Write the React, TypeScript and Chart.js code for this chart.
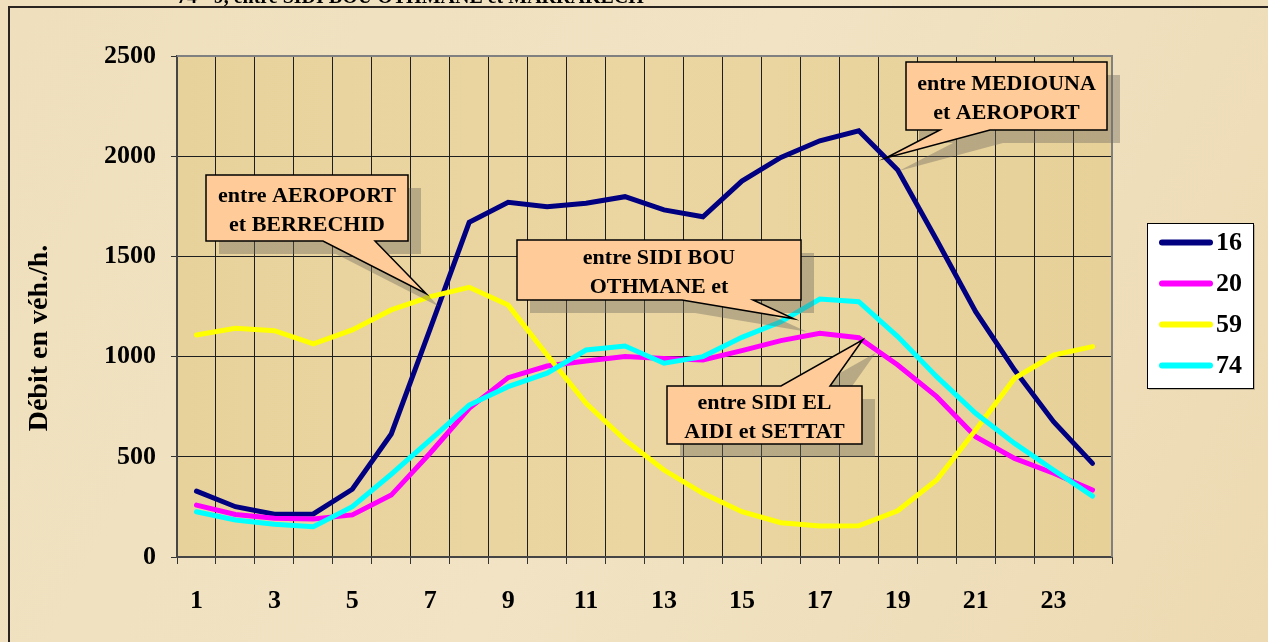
import React, { useEffect, useRef } from "react";
import { Chart, registerables } from "chart.js";

Chart.register(...registerables);

const FONT = "'Liberation Serif', 'Times New Roman', serif";

// ---- data ----
const categories = ["1", "2", "3", "4", "5", "6", "7", "8", "9", "10", "11", "12", "13", "14", "15", "16", "17", "18", "19", "20", "21", "22", "23", "24"];
const series16 = [329, 251, 213, 215, 338, 614, 1140, 1670, 1770, 1748, 1765, 1798, 1732, 1698, 1876, 1994, 2077, 2127, 1931, 1582, 1224, 933, 675, 467];
const series20 = [259, 212, 193, 190, 210, 309, 519, 742, 895, 953, 978, 1000, 991, 983, 1030, 1080, 1116, 1094, 958, 800, 600, 492, 418, 334];
const series59 = [1108, 1141, 1129, 1063, 1133, 1233, 1299, 1346, 1257, 1008, 767, 584, 434, 318, 226, 171, 155, 156, 231, 384, 634, 892, 1008, 1050];
const series74 = [226, 185, 163, 151, 251, 413, 584, 758, 850, 917, 1033, 1053, 967, 1000, 1096, 1174, 1287, 1274, 1100, 900, 717, 567, 434, 304];
const seriesNames = ["16", "20", "59", "74"];
const seriesColors = ["#000080", "#FF00FF", "#FFFF00", "#00FFFF"];
const yTicks = [0, 500, 1000, 1500, 2000, 2500];
const yTickLabels = ["0", "500", "1000", "1500", "2000", "2500"];
const yTitle = "Débit en véh./h.";
const topTitle = "74 - 9, entre SIDI BOU OTHMANE et MARRAKECH";

// callout texts + which point they point at
const calloutText = [
  ["entre AEROPORT", "et BERRECHID"],
  ["entre SIDI BOU", "OTHMANE et"],
  ["entre SIDI EL", "AIDI et SETTAT"],
  ["entre MEDIOUNA", "et AEROPORT"],
];
const calloutTarget = [
  { dataset: 2, index: 6 },
  { dataset: 3, index: 15 },
  { dataset: 1, index: 17 },
  { dataset: 0, index: 18 },
];

// layout of callouts (pixels)
const calloutLayout = [
  { x: 206, y: 175, w: 202, h: 66, tailA: 323, tailB: 375, side: "bottom", dx: -4, dy: -3 },
  { x: 517, y: 240, w: 284, h: 60, tailA: 682, tailB: 753, side: "bottom", dx: 13, dy: -3 },
  { x: 667, y: 386, w: 195, h: 58, tailA: 781, tailB: 830, side: "top", dx: 4, dy: 2 },
  { x: 906, y: 62, w: 201, h: 68, tailA: 940, tailB: 990, side: "bottom", dx: -12, dy: -12 },
];

function calloutPath(ctx: CanvasRenderingContext2D, L: any, tx: number, ty: number, ox: number, oy: number) {
  const x = L.x + ox, y = L.y + oy, w = L.w, h = L.h;
  ctx.beginPath();
  if (L.side === "bottom") {
    ctx.moveTo(x, y);
    ctx.lineTo(x + w, y);
    ctx.lineTo(x + w, y + h);
    ctx.lineTo(L.tailB + ox, y + h);
    ctx.lineTo(tx + ox, ty + oy);
    ctx.lineTo(L.tailA + ox, y + h);
    ctx.lineTo(x, y + h);
    ctx.closePath();
  } else {
    ctx.moveTo(x, y);
    ctx.lineTo(L.tailA + ox, y);
    ctx.lineTo(tx + ox, ty + oy);
    ctx.lineTo(L.tailB + ox, y);
    ctx.lineTo(x + w, y);
    ctx.lineTo(x + w, y + h);
    ctx.lineTo(x, y + h);
    ctx.closePath();
  }
}

const decorPlugin = {
  id: "decor",
  beforeDraw(chart: any) {
    const { ctx, width, height, chartArea } = chart;
    ctx.save();
    // parchment background
    const g = ctx.createLinearGradient(0, 0, width, height);
    g.addColorStop(0, "#EFDFBC");
    g.addColorStop(0.5, "#F1E3C4");
    g.addColorStop(1, "#EDDAB2");
    ctx.fillStyle = g;
    ctx.fillRect(0, 0, width, height);
    // title (clipped at top)
    ctx.fillStyle = "#000";
    ctx.font = `bold 20px ${FONT}`;
    ctx.textAlign = "left";
    ctx.textBaseline = "alphabetic";
    ctx.fillText(topTitle, 177, 3);
    // outer frame
    ctx.strokeStyle = "#2a2420";
    ctx.lineWidth = 2;
    ctx.strokeRect(9, 7, width + 20, height + 20);
    // plot area
    const pg = ctx.createLinearGradient(chartArea.left, 0, chartArea.right, 0);
    pg.addColorStop(0, "#E8D29C");
    pg.addColorStop(0.5, "#EBD6A2");
    pg.addColorStop(1, "#E7D199");
    ctx.fillStyle = pg;
    ctx.fillRect(chartArea.left, chartArea.top, chartArea.right - chartArea.left, chartArea.bottom - chartArea.top);
    // y title
    ctx.save();
    ctx.translate(40, 338);
    ctx.rotate(-Math.PI / 2);
    ctx.fillStyle = "#000";
    ctx.font = `bold 28px ${FONT}`;
    ctx.textAlign = "center";
    ctx.textBaseline = "middle";
    ctx.fillText(yTitle, 0, 0);
    ctx.restore();
    ctx.restore();
  },
  beforeDatasetsDraw(chart: any) {
    const { ctx, chartArea } = chart;
    ctx.save();
    ctx.strokeStyle = "#808080";
    ctx.lineWidth = 2;
    ctx.beginPath();
    ctx.moveTo(chartArea.left, chartArea.top);
    ctx.lineTo(chartArea.right, chartArea.top);
    ctx.lineTo(chartArea.right, chartArea.bottom);
    ctx.stroke();
    ctx.restore();
  },
  afterDatasetsDraw(chart: any) {
    const { ctx } = chart;
    ctx.save();
    calloutLayout.forEach((L, i) => {
      const t = calloutTarget[i];
      const pt = chart.getDatasetMeta(t.dataset).data[t.index];
      const tx = pt.x + L.dx;
      const ty = pt.y + L.dy;
      // shadow
      calloutPath(ctx, L, tx, ty, 13, 13);
      ctx.fillStyle = "rgba(110,105,95,0.4)";
      ctx.fill();
      // body
      calloutPath(ctx, L, tx, ty, 0, 0);
      ctx.fillStyle = "#FFCC99";
      ctx.fill();
      ctx.strokeStyle = "#000";
      ctx.lineWidth = 1.5;
      ctx.lineJoin = "miter";
      ctx.stroke();
      // text
      ctx.fillStyle = "#000";
      ctx.font = `bold 22px ${FONT}`;
      ctx.textAlign = "center";
      ctx.textBaseline = "alphabetic";
      const cx = L.x + L.w / 2;
      const b1 = L.y + L.h / 2 - 6;
      calloutText[i].forEach((line, k) => ctx.fillText(line, cx, b1 + k * 29));
    });
    ctx.restore();
  },
  afterDraw(chart: any) {
    const { ctx } = chart;
    ctx.save();
    const bx = 1147, by = 223, bw = 106, bh = 165;
    ctx.fillStyle = "rgba(90,85,75,0.35)";
    ctx.fillRect(bx + 2, by + 2, bw, bh);
    ctx.fillStyle = "#fff";
    ctx.fillRect(bx, by, bw, bh);
    ctx.strokeStyle = "#000";
    ctx.lineWidth = 1;
    ctx.strokeRect(bx + 0.5, by + 0.5, bw, bh);
    chart.data.datasets.forEach((ds: any, i: number) => {
      const yy = 242.5 + i * 41;
      ctx.strokeStyle = ds.borderColor;
      ctx.lineWidth = 6;
      ctx.lineCap = "round";
      ctx.beginPath();
      ctx.moveTo(1162, yy);
      ctx.lineTo(1210, yy);
      ctx.stroke();
      ctx.fillStyle = "#000";
      ctx.font = `bold 26px ${FONT}`;
      ctx.textAlign = "left";
      ctx.textBaseline = "middle";
      ctx.fillText(ds.label, 1216, yy + 1);
    });
    ctx.restore();
  },
};

export default function App() {
  const ref = useRef<HTMLCanvasElement | null>(null);
  useEffect(() => {
    if (!ref.current) return;
    const data = [series16, series20, series59, series74];
    const chart = new Chart(ref.current, {
      type: "line",
      data: {
        labels: categories,
        datasets: data.map((d, i) => ({
          label: seriesNames[i],
          data: d,
          borderColor: seriesColors[i],
          backgroundColor: seriesColors[i],
          borderWidth: 5,
          pointRadius: 0,
          tension: 0,
          fill: false,
          borderCapStyle: "round",
          borderJoinStyle: "miter",
          order: 3 - i,
        })),
      },
      options: {
        animation: false,
        responsive: false,
        maintainAspectRatio: false,
        layout: { padding: { left: 0, top: 56, right: 156, bottom: 0 } },
        plugins: { legend: { display: false }, tooltip: { enabled: false } },
        scales: {
          x: {
            offset: true,
            grid: { offset: true, color: "#1e1e1e", lineWidth: 1, tickLength: 7, tickColor: "#333" },
            border: { color: "#454545", width: 2 },
            ticks: {
              autoSkip: false,
              maxRotation: 0,
              color: "#000",
              padding: 22,
              font: { family: FONT, size: 26, weight: "bold" },
              callback: (_v: any, i: number) => (i % 2 === 0 ? categories[i] : ""),
            },
            afterFit: (s: any) => { s.height = 85; },
          },
          y: {
            min: 0,
            max: 2500,
            afterBuildTicks: (s: any) => { s.ticks = yTicks.map((v) => ({ value: v })); },
            grid: { color: "#1e1e1e", lineWidth: 1, tickLength: 6, tickColor: "#333" },
            border: { color: "#454545", width: 2 },
            ticks: {
              color: "#000",
              padding: 15,
              font: { family: FONT, size: 26, weight: "bold" },
              callback: (_v: any, i: number) => yTickLabels[i],
            },
            afterFit: (s: any) => { s.width = 177; },
          },
        },
      } as any,
      plugins: [decorPlugin],
    });
    return () => chart.destroy();
  }, []);
  return (
    <div style={{ position: "fixed", left: 0, top: 0, width: 1268, height: 642 }}>
      <canvas ref={ref} width={1268} height={642} style={{ width: 1268, height: 642, display: "block" }} />
    </div>
  );
}
